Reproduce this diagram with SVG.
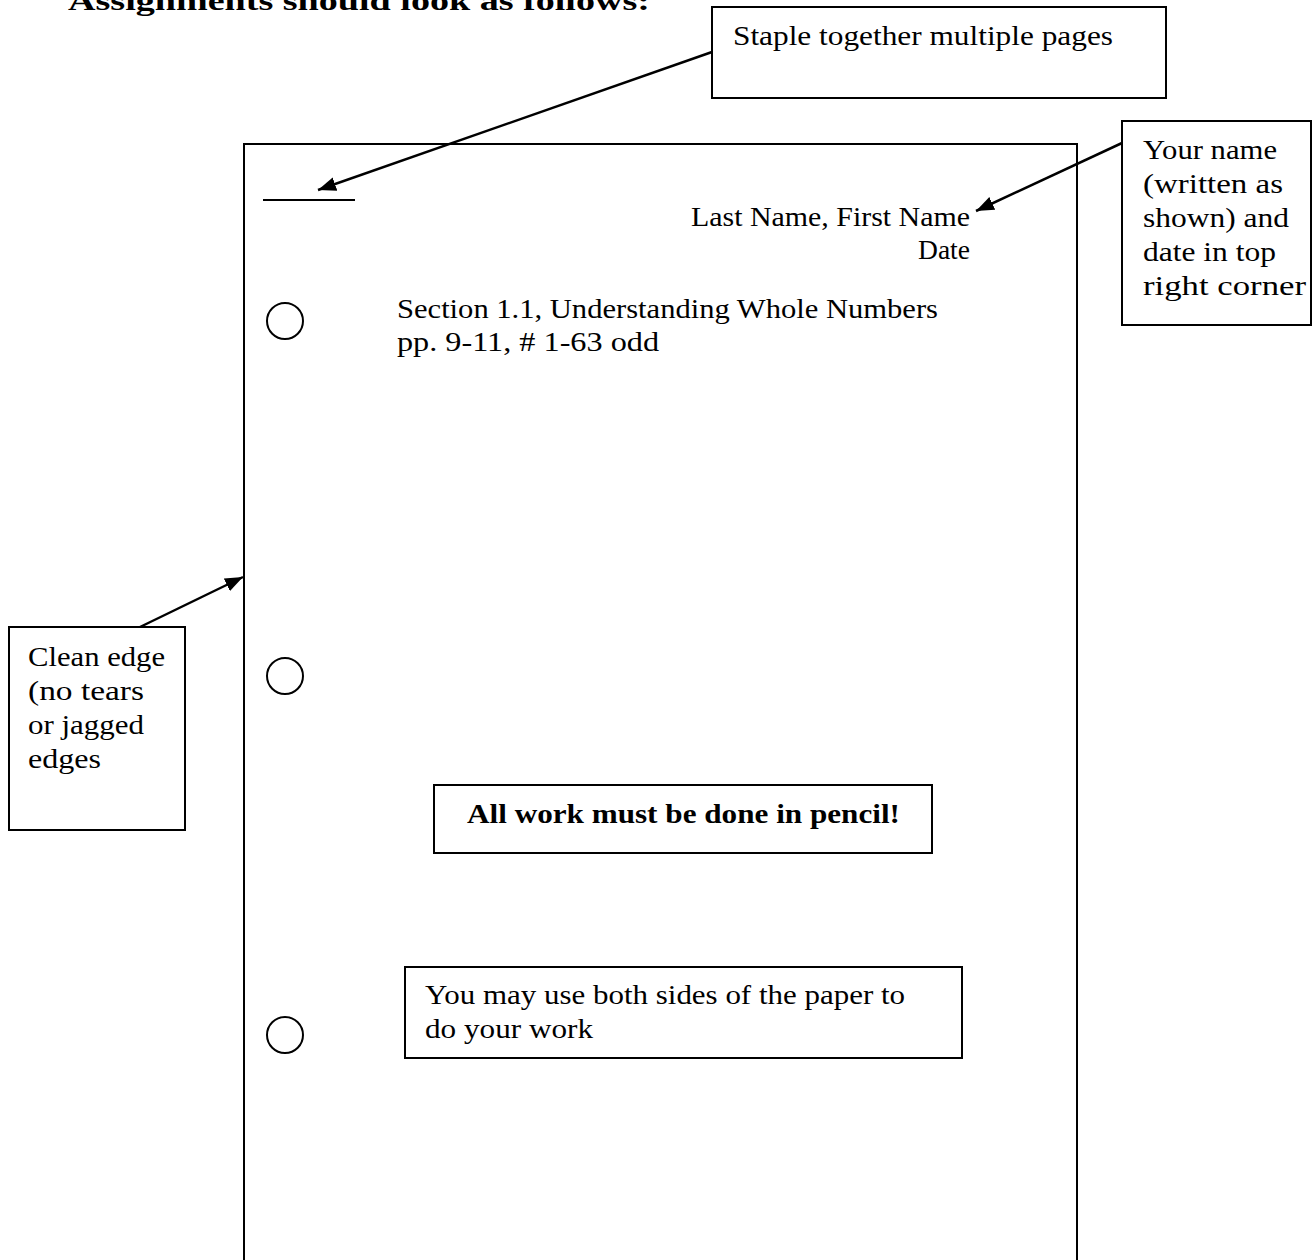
<svg xmlns="http://www.w3.org/2000/svg" width="1312" height="1260" viewBox="0 0 1312 1260">
<defs>
<marker id="ah" markerUnits="userSpaceOnUse" markerWidth="20" markerHeight="14" refX="18" refY="7" orient="auto">
<path d="M0,0 L18,7 L0,14 z" fill="#000"/>
</marker>
<style>
.t{font-family:"Liberation Serif","Times New Roman",serif;font-size:28px;fill:#000}
.b{font-weight:bold}
.box{fill:#fff;stroke:#000;stroke-width:2}
.hole{fill:none;stroke:#000;stroke-width:2}
.con{stroke:#000;stroke-width:2.5;fill:none;marker-end:url(#ah)}
</style>
</defs>
<rect x="0" y="0" width="1312" height="1260" fill="#fff"/>
<text class="t b" x="68" y="10" font-size="34" textLength="582" lengthAdjust="spacingAndGlyphs">Assignments should look as follows:</text>

<g id="page">
<rect x="244" y="144" width="833" height="1130" fill="none" stroke="#000" stroke-width="2"/>
<line x1="263" y1="200" x2="355" y2="200" stroke="#000" stroke-width="2"/>
<text class="t" x="691" y="226" textLength="279" lengthAdjust="spacingAndGlyphs">Last Name, First Name</text>
<text class="t" x="918" y="259" textLength="52" lengthAdjust="spacingAndGlyphs">Date</text>
<text class="t" x="397" y="318" textLength="541" lengthAdjust="spacingAndGlyphs">Section 1.1, Understanding Whole Numbers</text>
<text class="t" x="397" y="351" textLength="262" lengthAdjust="spacingAndGlyphs">pp. 9-11, # 1-63 odd</text>
<circle class="hole" cx="285" cy="321" r="18"/>
<circle class="hole" cx="285" cy="676" r="18"/>
<circle class="hole" cx="285" cy="1035" r="18"/>
</g>

<g id="staple-box">
<rect class="box" x="712" y="7" width="454" height="91"/>
<text class="t" x="733" y="45" textLength="380" lengthAdjust="spacingAndGlyphs">Staple together multiple pages</text>
</g>

<g id="name-box">
<rect class="box" x="1122" y="121" width="189" height="204"/>
<text class="t" x="1143" y="159" textLength="134" lengthAdjust="spacingAndGlyphs">Your name</text>
<text class="t" x="1143" y="193" textLength="140" lengthAdjust="spacingAndGlyphs">(written as</text>
<text class="t" x="1143" y="227" textLength="146" lengthAdjust="spacingAndGlyphs">shown) and</text>
<text class="t" x="1143" y="261" textLength="133" lengthAdjust="spacingAndGlyphs">date in top</text>
<text class="t" x="1143" y="295" textLength="163" lengthAdjust="spacingAndGlyphs">right corner</text>
</g>

<g id="edge-box">
<rect class="box" x="9" y="627" width="176" height="203"/>
<text class="t" x="28" y="666" textLength="137" lengthAdjust="spacingAndGlyphs">Clean edge</text>
<text class="t" x="28" y="700" textLength="116" lengthAdjust="spacingAndGlyphs">(no tears</text>
<text class="t" x="28" y="734" textLength="116" lengthAdjust="spacingAndGlyphs">or jagged</text>
<text class="t" x="28" y="768" textLength="73" lengthAdjust="spacingAndGlyphs">edges</text>
</g>

<g id="pencil-box">
<rect class="box" x="434" y="785" width="498" height="68"/>
<text class="t b" x="467" y="823" textLength="433" lengthAdjust="spacingAndGlyphs">All work must be done in pencil!</text>
</g>

<g id="sides-box">
<rect class="box" x="405" y="967" width="557" height="91"/>
<text class="t" x="425" y="1004" textLength="480" lengthAdjust="spacingAndGlyphs">You may use both sides of the paper to</text>
<text class="t" x="425" y="1038" textLength="168" lengthAdjust="spacingAndGlyphs">do your work</text>
</g>

<g id="connectors">
<line class="con" x1="712" y1="52" x2="318" y2="190"/>
<line class="con" x1="1122" y1="143" x2="976" y2="211"/>
<line class="con" x1="140" y1="627" x2="243" y2="577"/>
</g>
</svg>
